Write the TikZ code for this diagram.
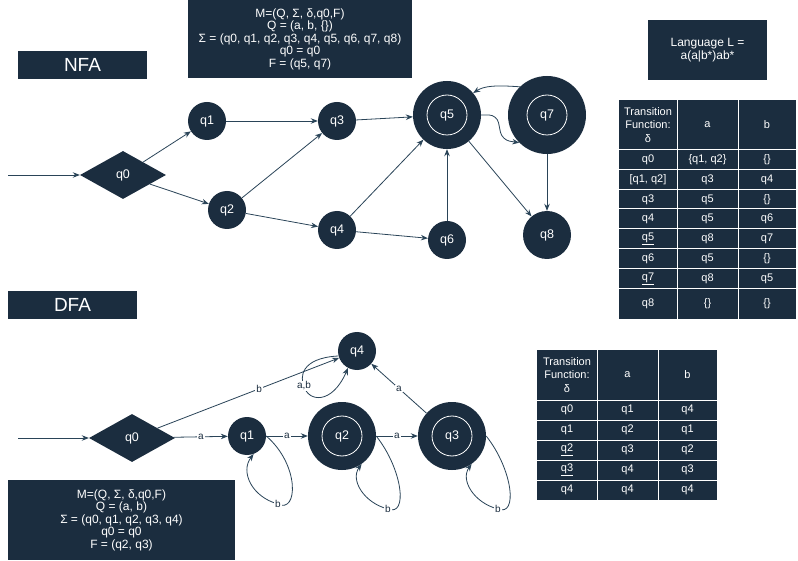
\documentclass[tikz,border=0pt]{standalone}
\usepackage{fontspec}
\setmainfont{Liberation Sans}
\usetikzlibrary{positioning}
\usetikzlibrary{shapes.geometric}
\usetikzlibrary{arrows.meta}
\definecolor{navy}{HTML}{1B2D3F}
\definecolor{edgeblue}{HTML}{2A4458}

\begin{document}
\begin{tikzpicture}[x=1pt, y=-1pt,
statenode/.style={circle, fill=navy, text=white, minimum size=38pt, inner sep=0pt, font=\fontsize{12.5}{12.5}\selectfont},
finalnode/.style={statenode, minimum size=68pt},
startnode/.style={diamond, fill=navy, text=white, minimum width=86pt, minimum height=48pt, inner sep=0pt, font=\fontsize{12.5}{12.5}\selectfont},
infobox/.style={rectangle, fill=navy, text=white, align=center, inner sep=0pt, font=\fontsize{12}{12.5}\selectfont},
titlebox/.style={rectangle, fill=navy, text=white, minimum width=129pt, minimum height=28pt, inner sep=0pt, font=\fontsize{19}{19}\selectfont},
cellnode/.style={text=white, align=center, inner sep=0pt, font=\fontsize{11}{13.5}\selectfont},
trans/.style={-{Stealth[length=7pt,width=5.5pt]}, edgeblue, line width=0.8pt},
edgelabel/.style={fill=white, text=navy, inner sep=1pt, font=\fontsize{10}{10}\selectfont},
]
\useasboundingbox[fill=white] (0,0) rectangle (798,561);

%Boxes
\node[titlebox]		(nfatitle)	at (82.5,65)	{NFA};
\node[titlebox]		(dfatitle)	at (72.5,305)	{DFA};
\node[infobox, minimum width=224pt, minimum height=78pt]	(nfainfo)	at (300,39)
	{M=(Q, Σ, δ,q0,F)\\Q = (a, b, \{\})\\Σ = (q0, q1, q2, q3, q4, q5, q6, q7, q8)\\q0 = q0\\F = (q5, q7)};
\node[infobox, minimum width=119pt, minimum height=60pt]	(lang)	at (707.5,50)
	{Language L =\\a(a|b*)ab*};
\node[infobox, minimum width=227pt, minimum height=80pt]	(dfainfo)	at (121.5,520)
	{M=(Q, Σ, δ,q0,F)\\Q = (a, b)\\Σ = (q0, q1, q2, q3, q4)\\q0 = q0\\F = (q2, q3)};

%NFA table
\fill[navy] (619,100) rectangle (796,319);
\foreach \x in {677,738} \draw[white, line width=1pt] (\x,100) -- (\x,319);
\foreach \y in {150,170,190,209,229,249,269,289} \draw[white, line width=1pt] (619,\y) -- (796,\y);
\node[cellnode] (nfahead) at (648,125) {Transition\\Function:\\δ};
\node[cellnode] (nfaheada) at (707.5,125) {a};
\node[cellnode] (nfaheadb) at (767,125) {b};
\foreach \yc/\s/\a/\b [count=\i] in {160/q0/{\{q1, q2\}}/\{\}, 180/{[q1, q2]}/q3/q4, 199.5/q3/q5/\{\}, 219/q4/q5/q6, 239/\underline{q5}/q8/q7, 259/q6/q5/\{\}, 279/\underline{q7}/q8/q5, 304/q8/\{\}/\{\}}{
	\node[cellnode] (nfas\i) at (648,\yc) {\s};
	\node[cellnode] (nfaa\i) at (707.5,\yc) {\a};
	\node[cellnode] (nfab\i) at (767,\yc) {\b};
}

%DFA table
\fill[navy] (537,350) rectangle (717,500);
\foreach \x in {597,658} \draw[white, line width=1pt] (\x,350) -- (\x,500);
\foreach \y in {400,420,440,460,480} \draw[white, line width=1pt] (537,\y) -- (717,\y);
\node[cellnode] (dfahead) at (567,375) {Transition\\Function:\\δ};
\node[cellnode] (dfaheada) at (627.5,375) {a};
\node[cellnode] (dfaheadb) at (687.5,375) {b};
\foreach \yc/\s/\a/\b [count=\i] in {410/q0/q1/q4, 430/q1/q2/q1, 450/\underline{q2}/q3/q2, 470/\underline{q3}/q4/q3, 490/q4/q4/q4}{
	\node[cellnode] (dfas\i) at (567,\yc) {\s};
	\node[cellnode] (dfaa\i) at (627.5,\yc) {\a};
	\node[cellnode] (dfab\i) at (687.5,\yc) {\b};
}

%NFA nodes
\coordinate (nstart) at (8,175);
\node[startnode]	(nq0)	at (123,175)	{q0};
\node[statenode]	(nq1)	at (207,121)	{q1};
\node[statenode]	(nq2)	at (227,210)	{q2};
\node[statenode]	(nq3)	at (337,121)	{q3};
\node[statenode]	(nq4)	at (337,230)	{q4};
\node[finalnode]	(nq5)	at (447,115)	{q5};
\node[statenode]	(nq6)	at (447,240)	{q6};
\node[finalnode, minimum size=78pt]	(nq7)	at (547,115)	{q7};
\node[statenode, minimum size=48pt]	(nq8)	at (547,235)	{q8};
\draw[white, line width=0.8pt] (nq5.center) circle (20pt);
\draw[white, line width=0.8pt] (nq7.center) circle (20pt);

%NFA lines
\draw[trans] (nstart) -- (nq0);
\draw[trans] (nq0) -- (nq1);
\draw[trans] (nq0) -- (nq2);
\draw[trans] (nq1) -- (nq3);
\draw[trans] (nq2) -- (nq3);
\draw[trans] (nq2) -- (nq4);
\draw[trans] (nq3) -- (nq5);
\draw[trans] (nq4) -- (nq5);
\draw[trans] (nq4) -- (nq6);
\draw[trans] (nq6) -- (nq5);
\draw[trans] (nq5) -- (nq8);
\draw[trans] (nq7) -- (nq8);
\draw[trans, rounded corners=8pt] (nq5.east) -- (497,115) -- (502,140) -- (nq7.225);
\draw[trans] (nq7.134) .. controls (495,85) and (484,86) .. (nq5.40);

%DFA nodes
\coordinate (dstart) at (18,438);
\node[startnode]	(dq0)	at (132,438)	{q0};
\node[statenode]	(dq1)	at (247,436)	{q1};
\node[finalnode]	(dq2)	at (342,436)	{q2};
\node[finalnode]	(dq3)	at (452,436)	{q3};
\node[statenode]	(dq4)	at (357,351)	{q4};
\draw[white, line width=0.8pt] (dq2.center) circle (20pt);
\draw[white, line width=0.8pt] (dq3.center) circle (20pt);

%DFA lines
\draw[trans] (dstart) -- (dq0);
\draw[trans] (dq0) -- node[edgelabel] {a} (dq1);
\draw[trans] (dq0) -- node[edgelabel, pos=0.56] {b} (dq4);
\draw[trans] (dq1) -- node[edgelabel] {a} (dq2);
\draw[trans] (dq2) -- node[edgelabel] {a} (dq3);
\draw[trans] (dq3) -- node[edgelabel] {a} (dq4);
\draw[trans] (dq1.east) .. controls (300,465) and (298,514) .. (278,504) node[edgelabel] {b} .. controls (252,497) and (240,472) .. (dq1.290);
\draw[trans] (dq2.east) .. controls (403,470) and (408,517) .. (388,509) node[edgelabel] {b} .. controls (364,503) and (350,480) .. (dq2.305);
\draw[trans] (dq3.east) .. controls (513,470) and (518,517) .. (498,509) node[edgelabel] {b} .. controls (474,503) and (460,480) .. (dq3.305);
\draw[trans] (dq4.195) .. controls (300,358) and (300,378) .. (304,386) node[edgelabel] {a,b} .. controls (308,402) and (332,405) .. (dq4.242);
\end{tikzpicture}
\end{document}
